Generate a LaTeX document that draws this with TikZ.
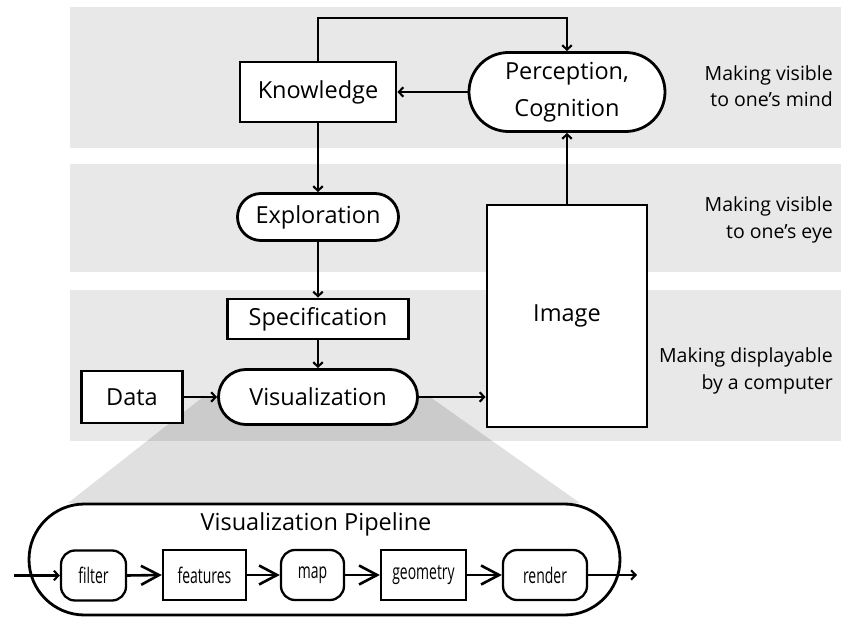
\documentclass[tikz,border=0pt]{standalone}
\usepackage{fontspec}
\setmainfont{Open Sans}
\newfontfamily\condfont[FakeStretch=0.65]{Open Sans}
\usetikzlibrary{arrows.meta}

\definecolor{bandgray}{RGB}{232,232,232}

\begin{document}
\begin{tikzpicture}[x=1pt,y=-1pt]
	\tikzstyle{every node}+=[inner sep=0pt]
	\tikzstyle{box}=[draw=black,line width=2.8pt,fill=white,align=center,font=\fontsize{23.5}{37}\selectfont]
	\tikzstyle{stage}=[draw=black,line width=2.3pt,fill=white,minimum height=50pt,font=\condfont\fontsize{21.5}{25}\selectfont]
	\tikzstyle{side}=[anchor=east,align=right,font=\fontsize{19.5}{26.5}\selectfont]
	\tikzstyle{arr}=[line width=2.1pt,-{Straight Barb[length=4.5pt,width=9.5pt]}]
	\tikzstyle{bigarr}=[line width=2.6pt,-{Straight Barb[length=18pt,width=19pt]}]
	\useasboundingbox (0,0) rectangle (841,617);
	\fill [bandgray] (70,7) rectangle (841,148);
	\fill [bandgray] (70,164) rectangle (841,272);
	\fill [bandgray] (70,290) rectangle (841,441);
	\fill [black,fill opacity=0.12] (203,397) -- (430,397) -- (580,503) -- (68,503) -- cycle;
	\node [box,minimum width=156pt,minimum height=60pt] (know) at (318,92) {Knowledge};
	\node [box,minimum width=196pt,minimum height=79pt,rounded corners=39.5pt] (percept) at (567,92) {Perception,\\Cognition};
	\node [box,minimum width=161pt,minimum height=47pt,rounded corners=23.5pt] (explore) at (318,217) {Exploration};
	\node [box,minimum width=181pt,minimum height=40pt] (spec) at (318,319) {Specification};
	\node [box,minimum width=199pt,minimum height=55pt,rounded corners=27.5pt] (vis) at (318,397) {Visualization};
	\node [box,minimum width=101pt,minimum height=52pt] (data) at (132,397) {Data};
	\node [box,minimum width=160pt,minimum height=222pt] (image) at (567,316) {Image};
	\node [side] (mind) at (833,86) {Making visible\\to one’s mind};
	\node [side] (eye) at (833,220) {Making visible\\to one’s eye};
	\node [side] (computer) at (833,371) {Making displayable\\by a computer};
	\node [box,minimum width=591pt,minimum height=111pt,rounded corners=55.5pt] (pipe) at (324.5,559.5) {};
	\node [font=\fontsize{23.5}{28}\selectfont] (pipetitle) at (316,524) {Visualization Pipeline};
	\node [stage,minimum width=65pt,rounded corners=14pt] (filter) at (93.5,575.5) {filter};
	\node [stage,minimum width=83pt] (feat) at (204.5,575) {features};
	\node [stage,minimum width=63pt,rounded corners=14pt] (mapn) at (312.5,575) {map};
	\node [stage,minimum width=85pt] (geom) at (423.5,575) {geometry};
	\node [stage,minimum width=84pt,rounded corners=14pt] (rend) at (545,575) {render};
	\coordinate (pin) at (14,575.5);
	\coordinate (pout) at (637,575);
	\draw [arr] (know.north) -- ++(0,-43) -| (percept.north);
	\draw [arr] (percept.west) -- (know.east);
	\draw [arr] (know.south) -- (explore.north);
	\draw [arr] (explore.south) -- (spec.north);
	\draw [arr] (spec.south) -- (vis.north);
	\draw [arr] (data.east) -- (vis.west);
	\draw [arr] (vis.east) -- (vis.east -| image.west);
	\draw [arr] (image.north) -- (percept.south);
	\draw [arr] (pin) -- (filter.west);
	\draw [bigarr] (filter.east) -- (feat.west);
	\draw [bigarr] (feat.east) -- (mapn.west);
	\draw [bigarr] (mapn.east) -- (geom.west);
	\draw [bigarr] (geom.east) -- (rend.west);
	\draw [arr] (rend.east) -- (pout);
\end{tikzpicture}
\end{document}
